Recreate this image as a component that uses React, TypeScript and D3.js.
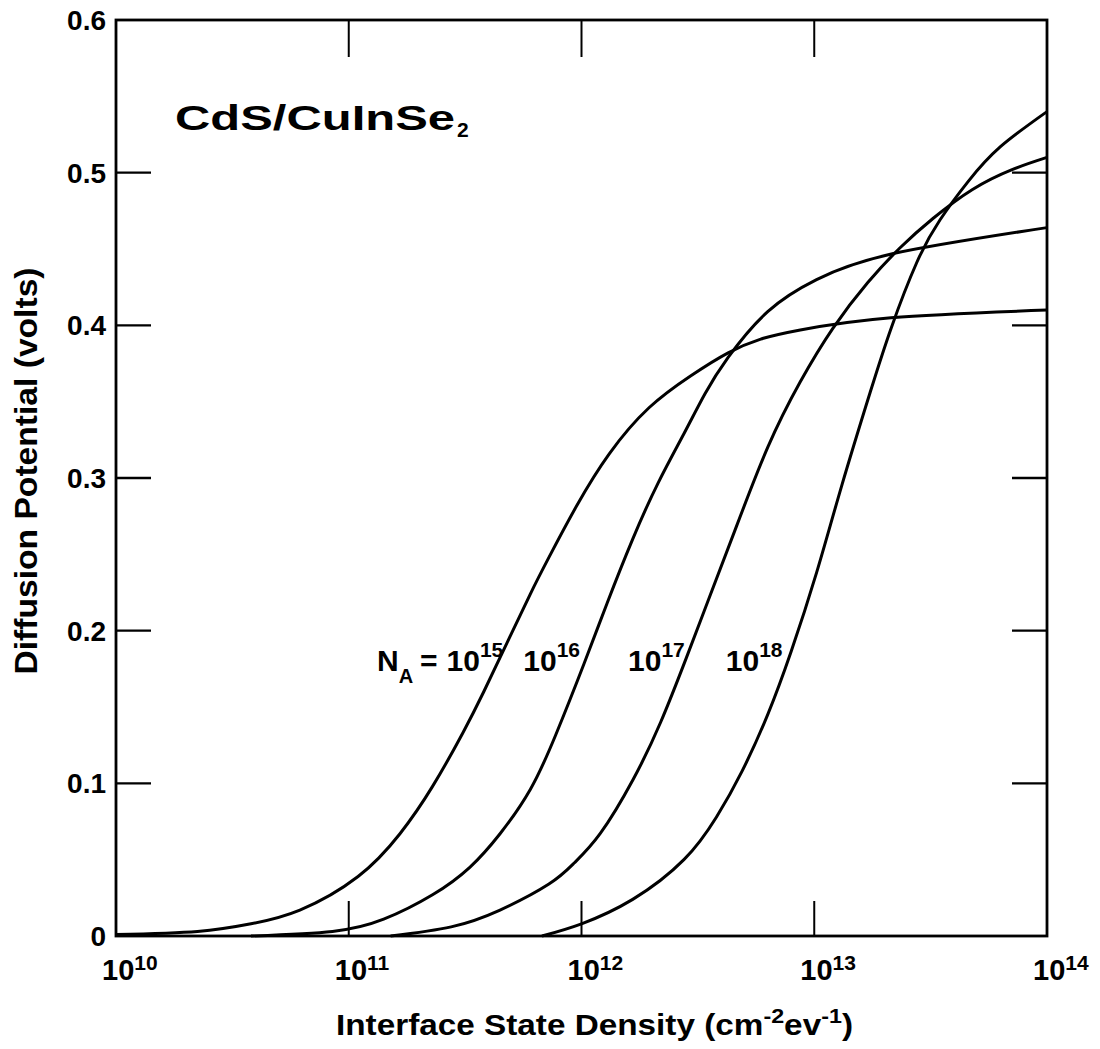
import React from "react";
import * as d3 from "d3";

// Interface state density exponents (log10 of cm^-2 eV^-1) and diffusion potential (V)
const na15X = [10.0, 10.35, 10.58, 10.79, 11.04, 11.22, 11.36, 11.49, 11.58, 11.68, 11.78, 11.86, 11.98, 12.12, 12.29, 12.47, 12.63, 12.77, 12.94, 13.33, 14.0];
const na15V = [0.001, 0.003, 0.008, 0.017, 0.039, 0.067, 0.098, 0.133, 0.16, 0.192, 0.224, 0.248, 0.282, 0.316, 0.346, 0.367, 0.382, 0.391, 0.397, 0.405, 0.41];

const na16X = [10.58, 10.93, 11.15, 11.36, 11.52, 11.65, 11.78, 11.89, 12.01, 12.11, 12.22, 12.33, 12.44, 12.53, 12.63, 12.8, 13.01, 13.34, 14.0];
const na16V = [0.0, 0.003, 0.011, 0.027, 0.045, 0.067, 0.096, 0.132, 0.178, 0.218, 0.26, 0.297, 0.329, 0.355, 0.379, 0.409, 0.43, 0.447, 0.464];

const na17X = [11.18, 11.44, 11.65, 11.86, 11.97, 12.08, 12.22, 12.34, 12.45, 12.55, 12.66, 12.8, 12.94, 13.08, 13.23, 13.37, 13.51, 13.68, 13.85, 14.0];
const na17V = [0.0, 0.006, 0.017, 0.034, 0.048, 0.067, 0.102, 0.14, 0.182, 0.222, 0.266, 0.32, 0.363, 0.398, 0.428, 0.451, 0.47, 0.489, 0.502, 0.51];

const na18X = [11.83, 12.0, 12.22, 12.44, 12.58, 12.69, 12.8, 12.9, 13.01, 13.12, 13.24, 13.33, 13.44, 13.54, 13.66, 13.8, 14.0];
const na18V = [0.0, 0.008, 0.024, 0.05, 0.078, 0.108, 0.145, 0.186, 0.238, 0.296, 0.356, 0.398, 0.441, 0.469, 0.494, 0.517, 0.54];

const seriesX = [na15X, na16X, na17X, na18X];
const seriesV = [na15V, na16V, na17V, na18V];
const seriesExp = ["15", "16", "17", "18"];

const xTickExps = [10, 11, 12, 13, 14];
const yTickValues = [0, 0.1, 0.2, 0.3, 0.4, 0.5, 0.6];
const yTickLabels = ["0", "0.1", "0.2", "0.3", "0.4", "0.5", "0.6"];

const FONT = "'Liberation Sans', Arial, Helvetica, sans-serif";

export default function App() {
  const W = 1100;
  const H = 1049;
  const x = d3.scaleLog().domain([1e10, 1e14]).range([116, 1047]);
  const y = d3.scaleLinear().domain([0, 0.6]).range([936, 20]);

  const line = d3
    .line<[number, number]>()
    .x((d) => x(Math.pow(10, d[0])))
    .y((d) => Math.min(y(0), y(d[1])))
    .curve(d3.curveNatural);

  const innerTicksX = xTickExps.slice(1, -1);
  const innerTicksY = yTickValues.slice(1, -1);

  // label anchor positions (data coords) for N_A annotations
  const labelExp = [11.42, 11.75, 12.2, 12.62];

  return (
    <div style={{ position: "absolute", left: 0, top: 0 }}>
      <svg width={W} height={H} style={{ display: "block", background: "#fff" }}>
        <g fill="none" stroke="#000" strokeWidth={2.8}>
          <rect x={x(1e10)} y={y(0.6)} width={x(1e14) - x(1e10)} height={y(0) - y(0.6)} />
          {innerTicksY.map((v) => (
            <g key={"yt" + v}>
              <line x1={x(1e10)} x2={x(1e10) + 35} y1={y(v)} y2={y(v)} strokeWidth={2.4} />
              <line x1={x(1e14)} x2={x(1e14) - 35} y1={y(v)} y2={y(v)} strokeWidth={2.4} />
            </g>
          ))}
          {innerTicksX.map((e) => (
            <g key={"xt" + e}>
              <line x1={x(Math.pow(10, e))} x2={x(Math.pow(10, e))} y1={y(0.6)} y2={y(0.6) + 37} strokeWidth={2} />
              <line x1={x(Math.pow(10, e))} x2={x(Math.pow(10, e))} y1={y(0)} y2={y(0) - 35} strokeWidth={2} />
            </g>
          ))}
        </g>
        <g fill="none" stroke="#000" strokeWidth={3}>
          {seriesX.map((xs, i) => (
            <path key={"s" + i} d={line(xs.map((v, j) => [v, seriesV[i][j]] as [number, number])) || ""} />
          ))}
        </g>
        <g fontFamily={FONT} fontWeight="bold" fill="#000">
          {yTickValues.map((v, i) => (
            <text key={"yl" + i} x={106} y={y(v)} dy="0.36em" textAnchor="end" fontSize={28}>
              {yTickLabels[i]}
            </text>
          ))}
          {xTickExps.map((e) => (
            <text key={"xl" + e} x={x(Math.pow(10, e)) - 14} y={980} fontSize={29}>
              10
              <tspan dy={-10} fontSize={21}>{String(e)}</tspan>
            </text>
          ))}
          <text
            transform={`translate(37,471) rotate(-90)`}
            textAnchor="middle"
            fontSize={31}
            textLength={407}
            lengthAdjust="spacingAndGlyphs"
          >
            Diffusion Potential (volts)
          </text>
          <text x={336} y={1035} fontSize={30} textLength={517} lengthAdjust="spacingAndGlyphs">
            Interface State Density (cm
            <tspan dy={-12} fontSize={21}>-2</tspan>
            <tspan dy={12}>ev</tspan>
            <tspan dy={-12} fontSize={21}>-1</tspan>
            <tspan dy={12}>)</tspan>
          </text>
          <text x={175} y={130} fontSize={35} textLength={280} lengthAdjust="spacingAndGlyphs">
            CdS/CuInSe
          </text>
          <text x={457} y={137} fontSize={21}>2</text>
          <text x={377} y={671} fontSize={30}>
            N
            <tspan dy={12} fontSize={20}>A</tspan>
          </text>
          <text x={420} y={671} fontSize={30}>=</text>
          {seriesExp.map((s, i) => (
            <text key={"na" + s} x={x(Math.pow(10, labelExp[i]))} y={671} fontSize={30}>
              10
              <tspan dy={-14} fontSize={21}>{s}</tspan>
            </text>
          ))}
        </g>
      </svg>
    </div>
  );
}
